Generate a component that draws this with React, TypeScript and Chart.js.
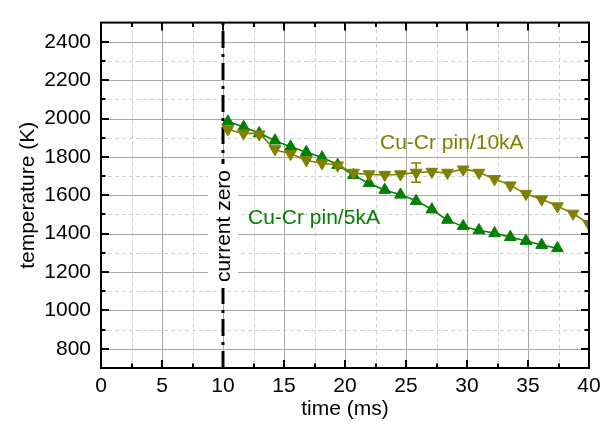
import React, { useEffect, useRef } from "react";
import { Chart, registerables } from "chart.js";

Chart.register(...registerables);

// ---------- data ----------
const time5kA = [10.40, 11.69, 12.97, 14.26, 15.54, 16.83, 18.12, 19.40, 20.69, 21.97, 23.26, 24.55, 25.83, 27.12, 28.40, 29.69, 30.98, 32.26, 33.55, 34.83, 36.12, 37.41];
const temp5kA = [1984, 1956, 1923, 1885, 1853, 1825, 1797, 1758, 1705, 1663, 1628, 1603, 1570, 1526, 1472, 1439, 1418, 1402, 1382, 1362, 1341, 1324];

const time10kA = [10.40, 11.69, 12.97, 14.26, 15.54, 16.83, 18.12, 19.40, 20.69, 21.97, 23.26, 24.55, 25.83, 27.12, 28.40, 29.69, 30.98, 32.26, 33.55, 34.83, 36.12, 37.41, 38.69, 39.98];
const temp10kA = [1944, 1923, 1918, 1841, 1816, 1784, 1767, 1756, 1718, 1710, 1707, 1710, 1718, 1723, 1718, 1735, 1718, 1685, 1652, 1608, 1579, 1543, 1505, 1451];

const errorBarTime = [25.83];
const errorBarTemp = [1718];
const errorBarDelta = [50];

const currentZeroTime = [10, 10];
const currentZeroTemp = [700, 2500];

const xRange = [0, 40];
const yRange = [700, 2500];
const xMajorTicks = [0, 5, 10, 15, 20, 25, 30, 35, 40];
const xMinorTicks = [2.5, 7.5, 12.5, 17.5, 22.5, 27.5, 32.5, 37.5];
const yMajorTicks = [800, 1000, 1200, 1400, 1600, 1800, 2000, 2200, 2400];
const yMinorTicks = [900, 1100, 1300, 1500, 1700, 1900, 2100, 2300];

const label5kA = "Cu-Cr pin/5kA";
const label10kA = "Cu-Cr pin/10kA";
const currentZeroLabel = "current zero";
const xTitle = "time (ms)";
const yTitle = "temperature (K)";

// annotation anchors in data coordinates
const label5kAAt = { t: 12.05, T: 1479 };
const label10kAAt = { t: 22.87, T: 1869 };
const currentZeroLabelT = 1440;

const GREEN = "#008000";
const OLIVE = "#808000";
const FONT = "'Liberation Sans', Arial, sans-serif";

const decorPlugin = {
  id: "decor",
  beforeDatasetsDraw(chart: any) {
    const { ctx, chartArea, scales } = chart;
    const { left, right, top, bottom } = chartArea;
    const x = scales.x;
    const y = scales.y;
    ctx.save();
    ctx.lineWidth = 1;
    // minor dashed grid
    ctx.strokeStyle = "#d2d2d2";
    ctx.setLineDash([4, 3]);
    xMinorTicks.forEach((v) => {
      const p = Math.round(x.getPixelForValue(v)) + 0.5;
      ctx.beginPath();
      ctx.moveTo(p, top);
      ctx.lineTo(p, bottom);
      ctx.stroke();
    });
    yMinorTicks.forEach((v) => {
      const p = Math.round(y.getPixelForValue(v)) + 0.5;
      ctx.beginPath();
      ctx.moveTo(left, p);
      ctx.lineTo(right, p);
      ctx.stroke();
    });
    // major solid grid
    ctx.setLineDash([]);
    ctx.strokeStyle = "#a8a8a8";
    xMajorTicks.forEach((v) => {
      const p = Math.round(x.getPixelForValue(v)) + 0.5;
      ctx.beginPath();
      ctx.moveTo(p, top);
      ctx.lineTo(p, bottom);
      ctx.stroke();
    });
    yMajorTicks.forEach((v) => {
      const p = Math.round(y.getPixelForValue(v)) + 0.5;
      ctx.beginPath();
      ctx.moveTo(left, p);
      ctx.lineTo(right, p);
      ctx.stroke();
    });
    ctx.restore();
  },
  afterDatasetsDraw(chart: any) {
    const { ctx, chartArea, scales } = chart;
    const { left, right, top, bottom } = chartArea;
    const x = scales.x;
    const y = scales.y;
    ctx.save();

    // error bar
    ctx.strokeStyle = OLIVE;
    ctx.lineWidth = 1.5;
    errorBarTime.forEach((t, i) => {
      const px = x.getPixelForValue(t);
      const pHi = y.getPixelForValue(errorBarTemp[i] + errorBarDelta[i]);
      const pLo = y.getPixelForValue(errorBarTemp[i] - errorBarDelta[i]);
      ctx.beginPath();
      ctx.moveTo(px, pHi);
      ctx.lineTo(px, pLo);
      ctx.moveTo(px - 5, pHi);
      ctx.lineTo(px + 5, pHi);
      ctx.moveTo(px - 5, pLo);
      ctx.lineTo(px + 5, pLo);
      ctx.stroke();
    });

    // current zero label with white background
    ctx.font = `21px ${FONT}`;
    const czx = x.getPixelForValue(currentZeroTime[0]);
    const czy = y.getPixelForValue(currentZeroLabelT);
    const w = ctx.measureText(currentZeroLabel).width;
    ctx.fillStyle = "#ffffff";
    ctx.fillRect(czx - 15, czy - w / 2 - 6, 30, w + 12);
    ctx.translate(czx + 1, czy);
    ctx.rotate(-Math.PI / 2);
    ctx.fillStyle = "#000000";
    ctx.textAlign = "center";
    ctx.textBaseline = "middle";
    ctx.fillText(currentZeroLabel, 0, 0);
    ctx.setTransform(1, 0, 0, 1, 0, 0);

    // series labels
    ctx.textAlign = "left";
    ctx.textBaseline = "middle";
    ctx.fillStyle = GREEN;
    ctx.fillText(label5kA, x.getPixelForValue(label5kAAt.t), y.getPixelForValue(label5kAAt.T));
    ctx.fillStyle = OLIVE;
    ctx.fillText(label10kA, x.getPixelForValue(label10kAAt.t), y.getPixelForValue(label10kAAt.T));

    // inward ticks on all four sides
    ctx.strokeStyle = "#000000";
    ctx.lineWidth = 2;
    const majorLen = 8;
    const minorLen = 4.5;
    const vt = (p: number, len: number) => {
      ctx.beginPath();
      ctx.moveTo(p, bottom);
      ctx.lineTo(p, bottom - len);
      ctx.moveTo(p, top);
      ctx.lineTo(p, top + len);
      ctx.stroke();
    };
    const ht = (p: number, len: number) => {
      ctx.beginPath();
      ctx.moveTo(left, p);
      ctx.lineTo(left + len, p);
      ctx.moveTo(right, p);
      ctx.lineTo(right - len, p);
      ctx.stroke();
    };
    xMajorTicks.forEach((v) => vt(Math.round(x.getPixelForValue(v)), majorLen));
    xMinorTicks.forEach((v) => vt(Math.round(x.getPixelForValue(v)), minorLen));
    yMajorTicks.forEach((v) => ht(Math.round(y.getPixelForValue(v)), majorLen));
    yMinorTicks.forEach((v) => ht(Math.round(y.getPixelForValue(v)), minorLen));

    // frame
    ctx.lineWidth = 2;
    ctx.strokeRect(left, top, right - left, bottom - top);
    ctx.restore();
  },
};

export default function App() {
  const canvasRef = useRef<HTMLCanvasElement | null>(null);

  useEffect(() => {
    document.body.style.margin = "0";
    const canvas = canvasRef.current;
    if (!canvas) return;
    const chart = new Chart(canvas, {
      type: "line",
      data: {
        datasets: [
          {
            label: label10kA,
            data: time10kA.map((t, i) => ({ x: t, y: temp10kA[i] })),
            borderColor: OLIVE,
            backgroundColor: OLIVE,
            borderWidth: 1.6,
            pointStyle: "triangle",
            pointRotation: 180,
            pointRadius: 6.8,
            pointBorderWidth: 1,
            tension: 0.3,
          },
          {
            label: label5kA,
            data: time5kA.map((t, i) => ({ x: t, y: temp5kA[i] })),
            borderColor: GREEN,
            backgroundColor: GREEN,
            borderWidth: 1.6,
            pointStyle: "triangle",
            pointRadius: 6.8,
            pointBorderWidth: 1,
            tension: 0.3,
          },
          {
            label: currentZeroLabel,
            data: currentZeroTime.map((t, i) => ({ x: t, y: currentZeroTemp[i] })),
            borderColor: "#000000",
            borderWidth: 3,
            borderDash: [17, 6, 3, 6],
            pointRadius: 0,
          },
        ],
      },
      options: {
        responsive: false,
        animation: false,
        devicePixelRatio: 1,
        layout: { padding: { left: 0, right: 23, top: 3, bottom: 0 } },
        plugins: { legend: { display: false }, tooltip: { enabled: false } },
        scales: {
          x: {
            type: "linear",
            min: xRange[0],
            max: xRange[1],
            grid: { display: false, drawTicks: false },
            border: { display: false },
            afterBuildTicks: (s: any) => {
              s.ticks = xMajorTicks.map((v) => ({ value: v }));
            },
            afterFit: (s: any) => {
              s.height = 59;
            },
            ticks: {
              color: "#000",
              padding: 6,
              maxRotation: 0,
              font: { family: FONT, size: 21 },
              callback: (v: any) => String(v),
            },
            title: {
              display: true,
              text: xTitle,
              color: "#000",
              font: { family: FONT, size: 21 },
              padding: { top: 0, bottom: 5 },
            },
          },
          y: {
            type: "linear",
            min: yRange[0],
            max: yRange[1],
            grid: { display: false, drawTicks: false },
            border: { display: false },
            afterBuildTicks: (s: any) => {
              s.ticks = yMajorTicks.map((v) => ({ value: v }));
            },
            afterFit: (s: any) => {
              s.width = 101;
            },
            ticks: {
              color: "#000",
              padding: 10,
              font: { family: FONT, size: 21 },
              callback: (v: any) => String(v),
            },
            title: {
              display: true,
              text: yTitle,
              color: "#000",
              font: { family: FONT, size: 21 },
              padding: { top: 16, bottom: 0 },
            },
          },
        },
      },
      plugins: [decorPlugin],
    });
    return () => chart.destroy();
  }, []);

  return (
    <div style={{ width: 612, height: 427 }}>
      <canvas ref={canvasRef} width={612} height={427} style={{ display: "block" }} />
    </div>
  );
}
